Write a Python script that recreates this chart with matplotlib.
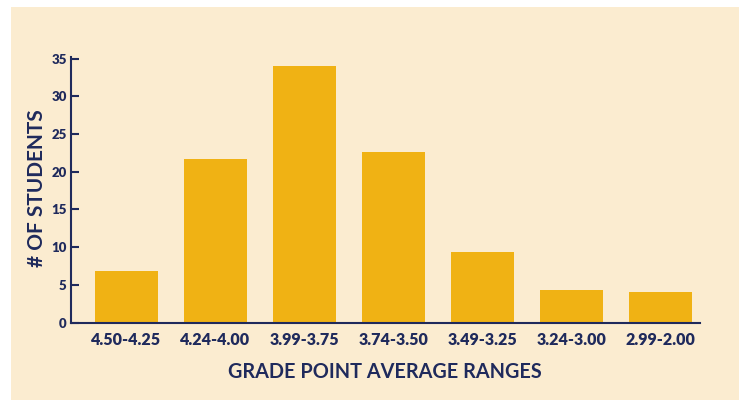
import matplotlib
matplotlib.use("Agg")
import matplotlib.pyplot as plt
from matplotlib.patches import Rectangle

categories = ["4.50-4.25", "4.24-4.00", "3.99-3.75", "3.74-3.50", "3.49-3.25", "3.24-3.00", "2.99-2.00"]
students = [6.9, 21.7, 34.1, 22.6, 9.3, 4.25, 4.1]
yticks = [0, 5, 10, 15, 20, 25, 30, 35]

bg = "#FBECD0"
bar_c = "#F0B214"
navy = "#1F2A5C"

plt.rcParams['font.family'] = ['Lato', 'DejaVu Sans']

fig = plt.figure(figsize=(7.39, 4.0), dpi=100)
fig.patch.set_facecolor("white")
fig.patches.append(Rectangle((11/739, 0), 1 - 11/739, 393/400, transform=fig.transFigure,
                             facecolor=bg, edgecolor="none", zorder=-10))

ax = fig.add_axes([71/739, 77.5/400, (700-71)/739, (322.5-56.5)/400])
ax.set_facecolor("none")
x = range(len(categories))
ax.bar(x, students, width=0.71, color=bar_c, zorder=2)
ax.set_xlim(-0.62, 6.44)
ax.set_ylim(0, 35.3)
ax.set_yticks(yticks)
ax.set_xticks(list(x))
ax.set_xticklabels(categories)
for s in ["top", "right"]:
    ax.spines[s].set_visible(False)
for s in ["left", "bottom"]:
    ax.spines[s].set_color(navy)
    ax.spines[s].set_linewidth(1.5)
ax.tick_params(axis="y", direction="in", length=6, width=1.5, color=navy, labelcolor=navy,
               labelsize=9.5, pad=3)
ax.tick_params(axis="x", length=0, labelcolor=navy, labelsize=11.5, pad=7)
for lab in ax.get_yticklabels() + ax.get_xticklabels():
    lab.set_fontweight("heavy")

fig.text(37/739, 1 - 188/400, "# OF STUDENTS", rotation=90, ha="center", va="center",
         color=navy, fontsize=15, fontweight="bold")
fig.text(385/739, 1 - 372/400, "GRADE POINT AVERAGE RANGES", ha="center", va="center",
         color=navy, fontsize=14.3, fontweight="bold")

fig.savefig("out.png", dpi=100)
